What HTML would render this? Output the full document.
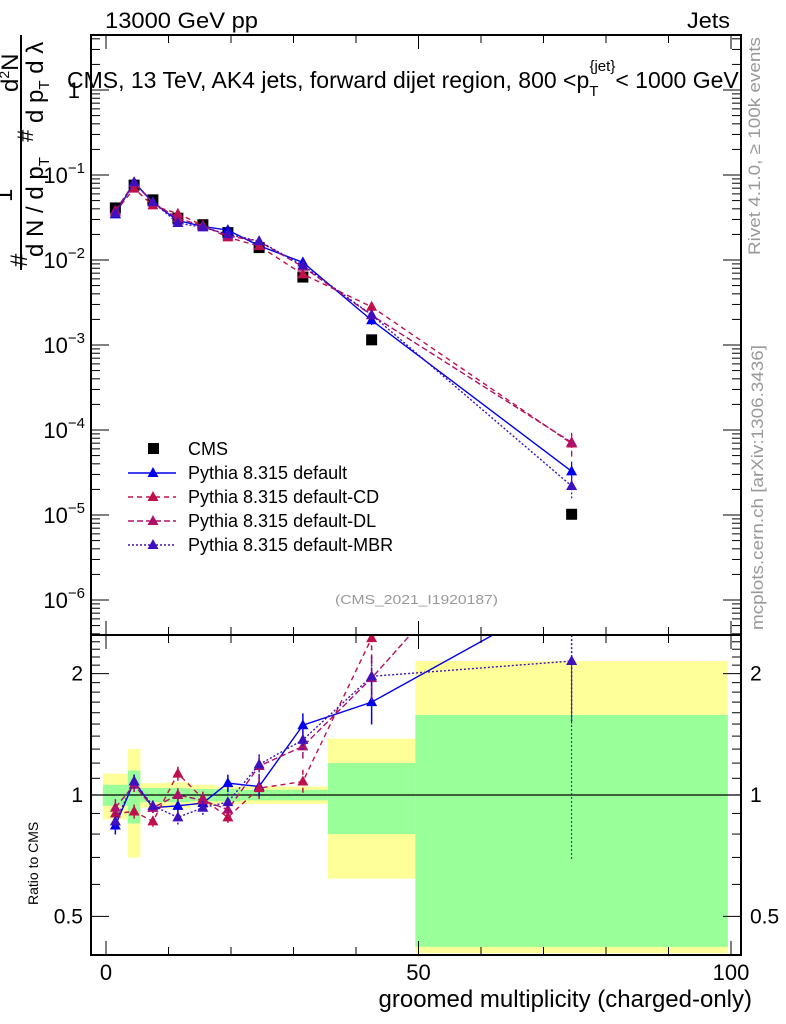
<!DOCTYPE html>
<html><head><meta charset="utf-8">
<style>
html,body{margin:0;background:#fff;overflow:hidden;width:786px;height:1024px;}
svg{display:block;}
svg text{font-family:"Liberation Sans",sans-serif;}
</style></head>
<body>
<svg id="c" width="786" height="1024" xmlns="http://www.w3.org/2000/svg">
<defs><clipPath id="cm"><rect x="91" y="35" width="650" height="600"/></clipPath>
<clipPath id="cr"><rect x="91" y="635" width="650" height="320"/></clipPath></defs>
<g id="bands" clip-path="url(#cr)"></g>
<g id="main" clip-path="url(#cm)"></g>
<g id="ratio" clip-path="url(#cr)"></g>
<g id="axes"></g>
<text x="105" y="28" font-size="22" textLength="153" lengthAdjust="spacingAndGlyphs">13000 GeV pp</text>
<text x="687" y="28" font-size="22" textLength="43" lengthAdjust="spacingAndGlyphs">Jets</text>
<text x="67" y="88" font-size="23">CMS, 13 TeV, AK4 jets, forward dijet region, 800 &lt;p<tspan dy="8" font-size="15">T</tspan><tspan dy="-25" dx="-9" font-size="15">{jet}</tspan><tspan dy="17">&lt; 1000 GeV</tspan></text>
<text x="335" y="604" font-size="13" fill="#999" textLength="163" lengthAdjust="spacingAndGlyphs">(CMS_2021_I1920187)</text>
<text transform="translate(760,255) rotate(-90)" font-size="17" fill="#999" textLength="218" lengthAdjust="spacingAndGlyphs">Rivet 4.1.0, ≥ 100k events</text>
<text transform="translate(763,630) rotate(-90)" font-size="17" fill="#999" textLength="285" lengthAdjust="spacingAndGlyphs">mcplots.cern.ch [arXiv:1306.3436]</text>
<g transform="rotate(-90)">
<text x="-267" y="27" font-size="24">#</text>
<text x="-202" y="12" font-size="24">1</text>
<text x="-257" y="43" font-size="24">d N / d p<tspan font-size="15" dy="6">T</tspan></text>
<text x="-142" y="33" font-size="22">#</text>
<text x="-123" y="43" font-size="24">d p<tspan font-size="15" dy="6">T</tspan><tspan dy="-6"> d λ</tspan></text>
<text x="-92" y="18" font-size="24">d<tspan font-size="14" dy="-9">2</tspan><tspan dy="9">N</tspan></text>
</g>
<line x1="21" y1="35" x2="21" y2="270" stroke="#000" stroke-width="2"/>
<text transform="translate(38,905) rotate(-90)" font-size="14">Ratio to CMS</text>
<text x="752" y="1007" font-size="24" text-anchor="end">groomed multiplicity (charged-only)</text>
<g id="legend"></g>
</svg>
<script>
const cats=[1.5,4.5,7.5,11.5,15.5,19.5,24.5,31.5,42.5,74.5];
const edges=[-0.5,3.5,5.5,9.5,13.5,17.5,21.5,27.5,35.5,49.5,99.5];
const cms=[0.041,0.076,0.051,0.031,0.026,0.021,0.014,0.0063,0.00115,0.0000102];
const rDefault=[0.84,1.08,0.93,0.94,0.955,1.07,1.05,1.49,1.70,3.2];
const rCD=[0.90,0.91,0.86,1.13,0.98,0.88,1.04,1.08,2.45,6.8];
const rDL=[0.93,1.06,0.93,1.00,0.97,0.92,1.18,1.32,1.95,7.0];
const rMBR=[0.86,1.08,0.94,0.88,0.93,0.96,1.19,1.37,1.97,2.15];
const errFrac=[0.05,0.04,0.03,0.04,0.04,0.05,0.06,0.07,0.12,0.3];
const bandYellow=[0.13,0.3,0.07,0.075,0.06,0.05,0.05,0.05,0.38,1.15];
const bandGreen=[0.06,0.15,0.04,0.04,0.035,0.035,0.03,0.03,0.2,0.58];
const xTicks=[0,50,100];
const mainTicks=[0,-1,-2,-3,-4,-5,-6];
const ratioTicks=[0.5,1,2];
const NS="http://www.w3.org/2000/svg";
const X=v=>106+v*6.25;
const Ym=v=>90-85*Math.log10(v);
const Yr=v=>795-403*Math.log10(v);
function el(t,a,p){const e=document.createElementNS(NS,t);for(const k in a)e.setAttribute(k,a[k]);document.getElementById(p).appendChild(e);return e;}
for(let i=0;i<bandYellow.length;i++){
 const x0=X(edges[i]),x1=X(edges[i+1]);
 const yb=Math.min(Yr(Math.max(1-bandYellow[i],0.405)),955);
 const y=el('rect',{x:x0,y:Yr(1+bandYellow[i]),width:x1-x0,height:yb-Yr(1+bandYellow[i]),fill:'#ffff99'},'bands');
 
 
 const g=el('rect',{x:x0,y:Yr(1+bandGreen[i]),width:x1-x0,height:Yr(1-bandGreen[i])-Yr(1+bandGreen[i]),fill:'#99ff99'},'bands');
 
 
}
el('line',{x1:91,x2:741,y1:Yr(1),y2:Yr(1),stroke:'#000','stroke-width':1.3},'bands');
const series=[
 {n:'pythia-default',r:rDefault,c:'#0000ee',d:'',lab:'Pythia 8.315 default'},
 {n:'pythia-default-cd',r:rCD,c:'#c0104a',d:'5,4',lab:'Pythia 8.315 default-CD'},
 {n:'pythia-default-dl',r:rDL,c:'#b0106a',d:'6,3',lab:'Pythia 8.315 default-DL'},
 {n:'pythia-default-mbr',r:rMBR,c:'#4010c0',d:'2,2',lab:'Pythia 8.315 default-MBR'}];
function tri(x,y,c,p,name){const t=el('path',{d:`M${x},${y-6}L${x+5.5},${y+4}L${x-5.5},${y+4}Z`,fill:c},p);}
cms.forEach((v,i)=>{const r=el('rect',{x:X(cats[i])-5.5,y:Ym(v)-5.5,width:11,height:11,fill:'#000'},'main');});
series.forEach(s=>{
 const mv=s.r.map((r,i)=>r*cms[i]);
 const pl=el('polyline',{points:mv.map((v,i)=>X(cats[i])+','+Ym(v)).join(' '),fill:'none',stroke:s.c,'stroke-width':1.4,'stroke-dasharray':s.d},'main');
 
 mv.forEach((v,i)=>{const e=errFrac[i]*v;
  const b=el('line',{x1:X(cats[i]),x2:X(cats[i]),y1:Ym(v+e),y2:Ym(Math.max(v-e,v*0.3)),stroke:s.c,'stroke-width':1.2,'stroke-dasharray':s.d},'main');
  
  tri(X(cats[i]),Ym(v),s.c,'main',s.n+'-point');});
 const rl=el('polyline',{points:s.r.map((v,i)=>X(cats[i])+','+Yr(v)).join(' '),fill:'none',stroke:s.c,'stroke-width':1.4,'stroke-dasharray':s.d},'ratio');
 
 s.r.forEach((v,i)=>{if(Yr(v)<600)return;const e=errFrac[i]*v;
  const b=el('line',{x1:X(cats[i]),x2:X(cats[i]),y1:Yr(v+e),y2:Yr(Math.max(v-e,0.45)),stroke:s.c,'stroke-width':1.5,'stroke-dasharray':s.d},'ratio');
  
  tri(X(cats[i]),Yr(v),s.c,'ratio',s.n+'-ratio-point');});
});
el('line',{x1:X(74.5),x2:X(74.5),y1:Yr(2.15),y2:Yr(0.69),stroke:'#4010c0','stroke-dasharray':'2,2'},'ratio');
const A='axes';
el('rect',{x:91,y:35,width:650,height:920,fill:'none',stroke:'#000','stroke-width':2},A);
el('line',{x1:91,x2:741,y1:635,y2:635,stroke:'#000','stroke-width':2},A);
for(let v=0;v<=100;v+=10){const L=v%50==0?14:8;
 for(const [y,d] of [[35,1],[635,-1],[635,1],[955,-1]]) el('line',{x1:X(v),x2:X(v),y1:y,y2:y+d*L,stroke:'#000'},A);}
xTicks.forEach(v=>{const t=el('text',{x:X(v),y:980,'font-size':22,'text-anchor':'middle'},A);t.textContent=v;});
for(let d=0;d>=-7;d--)for(let m=1;m<10;m++){const y=Ym(m*Math.pow(10,d));if(y<35||y>635)continue;const L=m==1?18:9;
 el('line',{x1:91,x2:91+L,y1:y,y2:y,stroke:'#000'},A);el('line',{x1:741,x2:741-L,y1:y,y2:y,stroke:'#000'},A);}
mainTicks.forEach(d=>{const t=el('text',{x:85,y:Ym(Math.pow(10,d))+8,'font-size':22,'text-anchor':'end'},A);
 if(d==0){t.textContent='1';t.setAttribute('x',80);}else{t.textContent='10';const s=document.createElementNS(NS,'tspan');s.setAttribute('dy','-10');s.setAttribute('font-size','15');s.textContent='−'+(-d);t.appendChild(s);}
 });
for(let v=0.4;v<=2.5;v+=0.1){const y=Yr(v);const maj=[0.5,1,2].some(m=>Math.abs(m-v)<1e-6);const L=maj?18:9;
 el('line',{x1:91,x2:91+L,y1:y,y2:y,stroke:'#000'},A);el('line',{x1:741,x2:741-L,y1:y,y2:y,stroke:'#000'},A);}
ratioTicks.forEach(v=>{for(const [x,a] of [[83,'end'],[750,'start']]){const t=el('text',{x:x,y:Yr(v)+7,'font-size':21,'text-anchor':a},A);t.textContent=v;}});
const lg='legend';
let r=el('rect',{x:148,y:443,width:11,height:11,fill:'#000'},lg);
let t=el('text',{x:188,y:455,'font-size':18},lg);t.textContent='CMS';
series.forEach((s,i)=>{const y=473+i*24;
 el('line',{x1:128,x2:176,y1:y,y2:y,stroke:s.c,'stroke-width':1.4,'stroke-dasharray':s.d},lg);
 tri(153,y,s.c,lg,'legend-'+s.n+'-marker');
 const tt=el('text',{x:188,y:y+6,'font-size':18},lg);tt.textContent=s.lab;});
</script>
</body></html>
